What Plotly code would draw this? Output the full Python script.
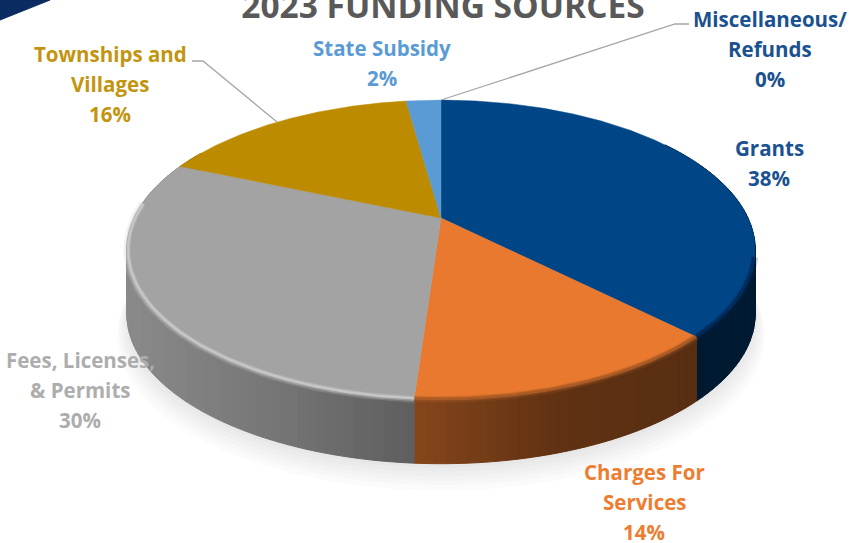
import numpy as np
import plotly.graph_objects as go

# ---- data -------------------------------------------------------------
categories = ["Grants", "Charges For Services", "Fees, Licenses, & Permits",
              "Townships and Villages", "State Subsidy", "Miscellaneous/Refunds"]
# slice shares
shares = [37.5, 13.6, 30.3, 16.4, 2.2, 0.0]
percent_labels = ["38%", "14%", "30%", "16%", "2%", "0%"]
label_lines = [["Grants"], ["Charges For", "Services"], ["Fees, Licenses,", "& Permits"],
               ["Townships and", "Villages"], ["State Subsidy"], ["Miscellaneous/", "Refunds"]]
colors = ["#004586", "#E8792F", "#A3A3A3", "#BC8B00", "#5B9BD5", "#004586"]
label_colors = ["#1A5190", "#ED7D31", "#ADADAD", "#C3950F", "#5B9BD5", "#1A5190"]
label_centers = [(769, 148), (644, 472), (80, 360), (110, 54), (382, 48), (770, 19)]

# ---- geometry of the tilted disc (pixel space of the hidden axes) -----
CX, CY, A, B, P, DEPTH = 441.0, 218.0, 307.0, 143.0, 0.213, 64.0
LINE_STEP = 30.0
shade_x = [127, 280, 414, 550, 700, 760]
shade_f = [0.85, 0.72, 0.58, 0.42, 0.38, 0.38]


def project(deg, r=1.0):
    t = np.radians(np.asarray(deg, dtype=float))
    X, Y = r * np.sin(t), r * np.cos(t)
    d = 1 + P * Y
    return CX + A * X / d, CY - B * Y / d


def rgb(hexcol, f=1.0):
    c = [min(255, int(int(hexcol[i:i + 2], 16) * f)) for i in (1, 3, 5)]
    return f"rgb({c[0]},{c[1]},{c[2]})"


fig = go.Figure()


def poly(xs, ys, fill, line=None, width=1, name=""):
    fig.add_trace(go.Scatter(
        x=xs, y=ys, mode="lines", fill="toself", fillcolor=fill,
        line=dict(color=line or fill, width=width), hoverinfo="skip" if not name else "text",
        text=name, showlegend=False))


bounds = np.concatenate([[0], np.cumsum(shares) / sum(shares) * 360])

# soft shadow beneath the disc
ring = np.linspace(0, 360, 241)
for grow, drop in [(1.030, 84), (1.024, 80), (1.018, 77), (1.012, 74), (1.006, 71), (1.0, 68)]:
    sx, sy = project(ring, grow)
    poly(sx, sy + drop, "rgba(0,0,0,0.014)", line="rgba(0,0,0,0)", width=0)

# side wall, in narrow shaded strips
for i, col in enumerate(colors):
    a0, a1 = bounds[i], bounds[i + 1]
    lo, hi = max(a0, 55), min(a1, 300)
    if hi <= lo:
        continue
    edges = np.linspace(lo, hi, max(2, int((hi - lo) / 1.5) + 1))
    for e0, e1 in zip(edges[:-1], edges[1:]):
        xs, ys = project([e0, e1])
        f = float(np.interp(float(np.mean(xs)), shade_x, shade_f))
        c = rgb(col, f)
        poly([xs[0], xs[1], xs[1], xs[0], xs[0]],
             [ys[0], ys[1], ys[1] + DEPTH, ys[0] + DEPTH, ys[0]], c)

# top face
for i, (cat, col) in enumerate(zip(categories, colors)):
    a0, a1 = bounds[i], bounds[i + 1]
    if a1 <= a0:
        continue
    arc = np.linspace(a0, a1, max(3, int(a1 - a0) * 2))
    ax, ay = project(arc)
    poly(np.r_[CX, ax, CX], np.r_[CY, ay, CY], col, line=col, width=0.5,
         name=f"{cat}: {percent_labels[i]}")

# bevel along the front rim: tint, start angle, and (width, alpha, inset) passes
rim_tint = {0: ((0, 40, 85), 105), 1: ((160, 85, 35), 85), 2: ((205, 205, 205), 85)}
rim_passes = [(7, 0.22, 1.0), (4.5, 0.4, 0.998), (2, 0.7, 0.996)]
for i, (tint, start) in rim_tint.items():
    a0, a1 = bounds[i], bounds[i + 1]
    arc = np.linspace(max(a0, start), min(a1, 276), 120)
    for w, alpha, r in rim_passes:
        rx, ry = project(arc, r)
        fig.add_trace(go.Scatter(
            x=rx, y=ry, mode="lines", hoverinfo="skip", showlegend=False,
            line=dict(color=f"rgba({tint[0]},{tint[1]},{tint[2]},{alpha})", width=w)))

# corner tab and leader lines
poly([0, 50, 0, 0], [0, 0, 20, 0], "#0B2B63")
fig.add_trace(go.Scatter(x=[192, 203, 277], y=[61, 61, 122], mode="lines", hoverinfo="skip",
                         showlegend=False, line=dict(color="#A6A6A6", width=1.3)))
fig.add_trace(go.Scatter(x=[689, 675, 441], y=[24, 24, 100], mode="lines", hoverinfo="skip",
                         showlegend=False, line=dict(color="#A6A6A6", width=1.3)))

# data labels
FONT = "Open Sans"
for lines, pct, (lx, ly), col in zip(label_lines, percent_labels, label_centers, label_colors):
    for k, txt in enumerate(lines + [pct]):
        fig.add_annotation(x=lx, y=ly + k * LINE_STEP, text=f"<b>{txt}</b>", showarrow=False,
                           xanchor="center", yanchor="middle",
                           font=dict(family=FONT, size=20.5, color=col))

fig.update_layout(
    width=849, height=543, margin=dict(l=0, r=0, t=0, b=0),
    paper_bgcolor="white", plot_bgcolor="white", showlegend=False,
    title=dict(text="<b>2023 FUNDING SOURCES</b>", x=443 / 849, xanchor="center",
               y=1 - 6 / 543, yanchor="middle",
               font=dict(family=FONT, size=33.5, color="#595959")),
    xaxis=dict(range=[0, 849], visible=False, fixedrange=True),
    yaxis=dict(range=[543, 0], visible=False, fixedrange=True),
)
fig.write_html("out.html", config={"displayModeBar": False},
               post_script="document.body.style.margin='0';document.body.style.overflow='hidden';")
